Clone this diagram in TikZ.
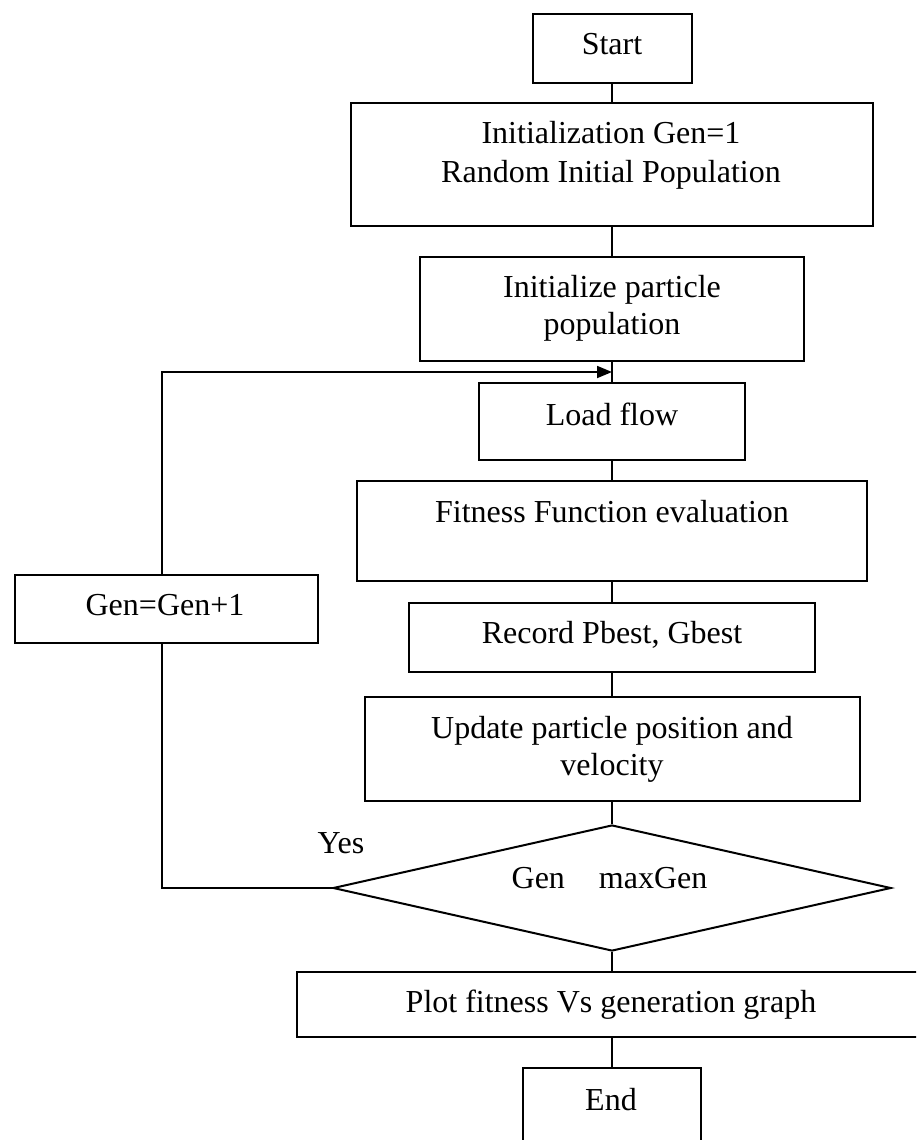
\documentclass[tikz,border=0pt]{standalone}
\usepackage{fontspec}
\setmainfont{Liberation Serif}
\usetikzlibrary{shapes.geometric,arrows.meta}
\begin{document}
\begin{tikzpicture}[x=1pt,y=-1pt,
  box/.style={draw, line width=2pt, rectangle, inner sep=0pt},
  txt/.style={anchor=base, inner sep=0pt, font=\fontsize{32}{37}\selectfont},
  conn/.style={line width=1.8pt}]
\useasboundingbox (0,0) rectangle (916,1140);
\clip (0,0) rectangle (916,1140);
% boxes
\node[box, minimum width=159pt, minimum height=69pt] (start) at (612,48.5) {};
\node[box, minimum width=522pt, minimum height=123pt] (init) at (612,164.5) {};
\node[box, minimum width=384pt, minimum height=104pt] (ip) at (612,309) {};
\node[box, minimum width=266pt, minimum height=77pt] (load) at (612,421.5) {};
\node[box, minimum width=510pt, minimum height=100pt] (fit) at (612,531) {};
\node[box, minimum width=303pt, minimum height=68pt] (gen) at (166.5,609) {};
\node[box, minimum width=406pt, minimum height=69pt] (rec) at (612,637.5) {};
\node[box, minimum width=495pt, minimum height=104pt] (upd) at (612,749) {};
\node[diamond, draw, line width=2pt, inner sep=0pt, minimum width=558pt, minimum height=126pt] (dec) at (612,888) {};
\node[box, minimum width=630pt, minimum height=65pt] (plot) at (612,1004.5) {};
\node[box, minimum width=178pt, minimum height=82pt] (end) at (612,1109) {};
% texts
\node[txt] (tstart) at (612,55) {Start};
\node[txt] (tinit1) at (611,143) {Initialization Gen=1};
\node[txt] (tinit2) at (611,182) {Random Initial Population};
\node[txt] (tip1) at (612,297) {Initialize particle};
\node[txt] (tip2) at (612,334) {population};
\node[txt] (tload) at (612,425) {Load flow};
\node[txt] (tfit) at (612,522) {Fitness Function evaluation};
\node[txt] (tgen) at (165,615) {Gen=Gen+1};
\node[txt] (trec) at (612,643) {Record Pbest, Gbest};
\node[txt] (tupd1) at (612,738) {Update particle position and};
\node[txt] (tupd2) at (612,775) {velocity};
\node[txt] (tdec) at (609.5,888) {Gen\hspace*{34pt}maxGen};
\node[txt] (tyes) at (341,853) {Yes};
\node[txt] (tplot) at (611,1012) {Plot fitness Vs generation graph};
\node[txt] (tend) at (611,1110) {End};
% connectors
\coordinate (merge) at (612,372);
\coordinate (gtop) at (162,575);
\coordinate (gbot) at (162,643);
\draw[conn] (start.south) -- (init.north);
\draw[conn] (init.south) -- (ip.north);
\draw[conn] (ip.south) -- (load.north);
\draw[conn] (load.south) -- (fit.north);
\draw[conn] (fit.south) -- (rec.north);
\draw[conn] (rec.south) -- (upd.north);
\draw[conn] (upd.south) -- (dec.north);
\draw[conn] (dec.south) -- (plot.north);
\draw[conn] (plot.south) -- (end.north);
\draw[conn] (dec.west) -| (gbot);
\draw[conn, -{Triangle[length=15pt,width=12pt]}] (gtop) |- (merge);
\end{tikzpicture}
\end{document}
